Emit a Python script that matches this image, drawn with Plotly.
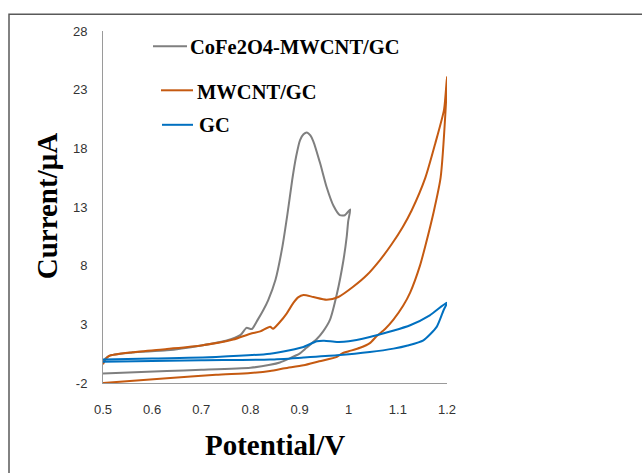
import plotly.graph_objects as go

# ---- data ----
series_names = ["CoFe2O4-MWCNT/GC", "MWCNT/GC", "GC"]
series_colors = ["#7F7F7F", "#C55A11", "#0070C0"]

cofe_potential = [0.500, 0.505, 0.515, 0.560, 0.630, 0.700, 0.750, 0.780, 0.792, 0.803, 0.815,
                  0.826, 0.836, 0.851, 0.865, 0.875, 0.885, 0.893, 0.901, 0.908, 0.915, 0.922,
                  0.928, 0.942, 0.955, 0.969, 0.982, 0.992, 1.003,
                  0.999, 0.996, 0.989, 0.976, 0.962, 0.948, 0.935, 0.914, 0.900, 0.880, 0.860,
                  0.840, 0.800, 0.700, 0.630, 0.500]
cofe_current = [-0.3, 0.1, 0.35, 0.6, 0.78, 1.2, 1.6, 2.1, 2.7, 2.6, 3.4,
                4.2, 5.05, 6.8, 9.6, 12.3, 15.3, 17.3, 18.7, 19.2, 19.35, 19.1,
                18.6, 16.7, 14.7, 13.1, 12.3, 12.3, 12.8,
                11.8, 10.5, 8.4, 5.6, 3.4, 2.4, 1.75, 1.0, 0.5, 0.1, -0.25,
                -0.45, -0.7, -0.88, -0.98, -1.2]

mwcnt_potential = [0.500, 0.505, 0.512, 0.560, 0.630, 0.700, 0.765, 0.800, 0.820, 0.840, 0.846,
                   0.860, 0.874, 0.887, 0.897, 0.908, 0.928, 0.955, 0.979, 1.009, 1.037, 1.064,
                   1.087, 1.110, 1.128, 1.156, 1.176, 1.194, 1.200,
                   1.197, 1.187, 1.173, 1.156, 1.145, 1.125, 1.111, 1.091, 1.074, 1.057, 1.043,
                   1.023, 1.000, 0.986, 0.976, 0.940, 0.908, 0.870, 0.840, 0.800, 0.730, 0.630,
                   0.500]
mwcnt_current = [-0.4, 0.0, 0.3, 0.62, 0.9, 1.2, 1.7, 2.2, 2.4, 2.8, 2.62,
                 3.2, 3.94, 4.8, 5.3, 5.5, 5.33, 5.1, 5.33, 6.2, 7.2, 8.5,
                 9.8, 11.3, 12.7, 15.5, 18.4, 21.3, 24.1,
                 21.2, 15.5, 12.6, 9.7, 8.0, 5.7, 4.6, 3.4, 2.6, 2.0, 1.4,
                 1.0, 0.7, 0.51, 0.22, -0.15, -0.49, -0.75, -0.98, -1.15, -1.3, -1.6,
                 -2.0]

gc_potential = [0.500, 0.600, 0.730, 0.840, 0.880, 0.908, 0.935, 0.950, 0.976, 1.000, 1.043,
                1.057, 1.090, 1.125, 1.165, 1.200,
                1.193, 1.179, 1.152, 1.120, 1.091, 1.043, 0.976, 0.908, 0.840, 0.700, 0.500]
gc_current = [0.0, 0.08, 0.22, 0.5, 0.8, 1.07, 1.56, 1.6, 1.5, 1.55, 1.92,
              2.07, 2.45, 2.92, 3.77, 4.85,
              4.2, 2.78, 1.64, 1.2, 0.93, 0.64, 0.36, 0.17, 0.0, -0.06, -0.18]

x_ticks = [0.5, 0.6, 0.7, 0.8, 0.9, 1.0, 1.1, 1.2]
x_tick_labels = ["0.5", "0.6", "0.7", "0.8", "0.9", "1", "1.1", "1.2"]
y_ticks = [-2, 3, 8, 13, 18, 23, 28]
y_tick_labels = ["-2", "3", "8", "13", "18", "23", "28"]

x_title = "Potential/V"
y_title = "Current/μA"

# ---- layout helpers (pixel -> paper) ----
W, H = 642, 473
PL, PR, PT, PB = 103, 447, 30.7, 382.7


def px(x):
    return (x - PL) / (PR - PL)


def py(y):
    return (PB - y) / (PB - PT)


fig = go.Figure()
all_x = [cofe_potential, mwcnt_potential, gc_potential]
all_y = [cofe_current, mwcnt_current, gc_current]
for name, color, xs, ys in zip(series_names, series_colors, all_x, all_y):
    fig.add_trace(go.Scatter(x=xs, y=ys, mode="lines", name=name,
                             line=dict(color=color, width=2, shape="spline", smoothing=0.6),
                             showlegend=False, hoverinfo="skip"))

# manual legend (keys + labels)
legend_pos = [  # (line x0, line x1, line y, text x, text y) in pixels
    (153, 187, 46, 188, 46.5),
    (161, 193, 90, 195, 91.5),
    (162, 193, 124.5, 196.5, 125),
]
for (lx0, lx1, ly, tx, ty), name, color in zip(legend_pos, series_names, series_colors):
    fig.add_shape(type="line", xref="paper", yref="paper",
                  x0=px(lx0), x1=px(lx1), y0=py(ly), y1=py(ly),
                  line=dict(color=color, width=2))
    fig.add_annotation(text=f"<b>{name}</b>", xref="paper", yref="paper", x=px(tx), y=py(ty),
                       xanchor="left", yanchor="middle", showarrow=False,
                       font=dict(family="Liberation Serif", size=20.5, color="#000000"))

# axis titles
fig.add_annotation(text=f"<b>{y_title}</b>", xref="paper", yref="paper",
                   x=px(47), y=py(206), textangle=-90, showarrow=False,
                   xanchor="center", yanchor="middle",
                   font=dict(family="Liberation Serif", size=29, color="#000000"))
fig.add_annotation(text=f"<b>{x_title}</b>", xref="paper", yref="paper",
                   x=px(275), y=py(445), showarrow=False,
                   xanchor="center", yanchor="middle",
                   font=dict(family="Liberation Serif", size=29, color="#000000"))

# outer frame
fig.add_shape(type="rect", xref="paper", yref="paper",
              x0=px(9), x1=px(700), y0=py(14), y1=py(520),
              line=dict(color="#595959", width=1.5), fillcolor="rgba(0,0,0,0)", layer="below")

fig.update_layout(
    width=W, height=H,
    margin=dict(l=PL, r=W - PR, t=PT, b=H - PB, pad=0),
    paper_bgcolor="white", plot_bgcolor="white",
    showlegend=False,
    xaxis=dict(range=[0.5, 1.2], tickvals=x_ticks, ticktext=x_tick_labels,
               showgrid=False, zeroline=False, showline=True, linecolor="#9A9A9A",
               linewidth=1, ticks="", ticklabelstandoff=14,
               tickfont=dict(family="Liberation Sans", size=13, color="#333333")),
    yaxis=dict(range=[-2, 28], tickvals=y_ticks, ticktext=y_tick_labels,
               showgrid=False, zeroline=False, showline=True, linecolor="#9A9A9A",
               linewidth=1, ticks="", ticklabelstandoff=12,
               tickfont=dict(family="Liberation Sans", size=13, color="#333333")),
)

fig.write_html("out.html", config={"displayModeBar": False},
               post_script="document.body.style.margin='0';document.body.style.overflow='hidden';")
